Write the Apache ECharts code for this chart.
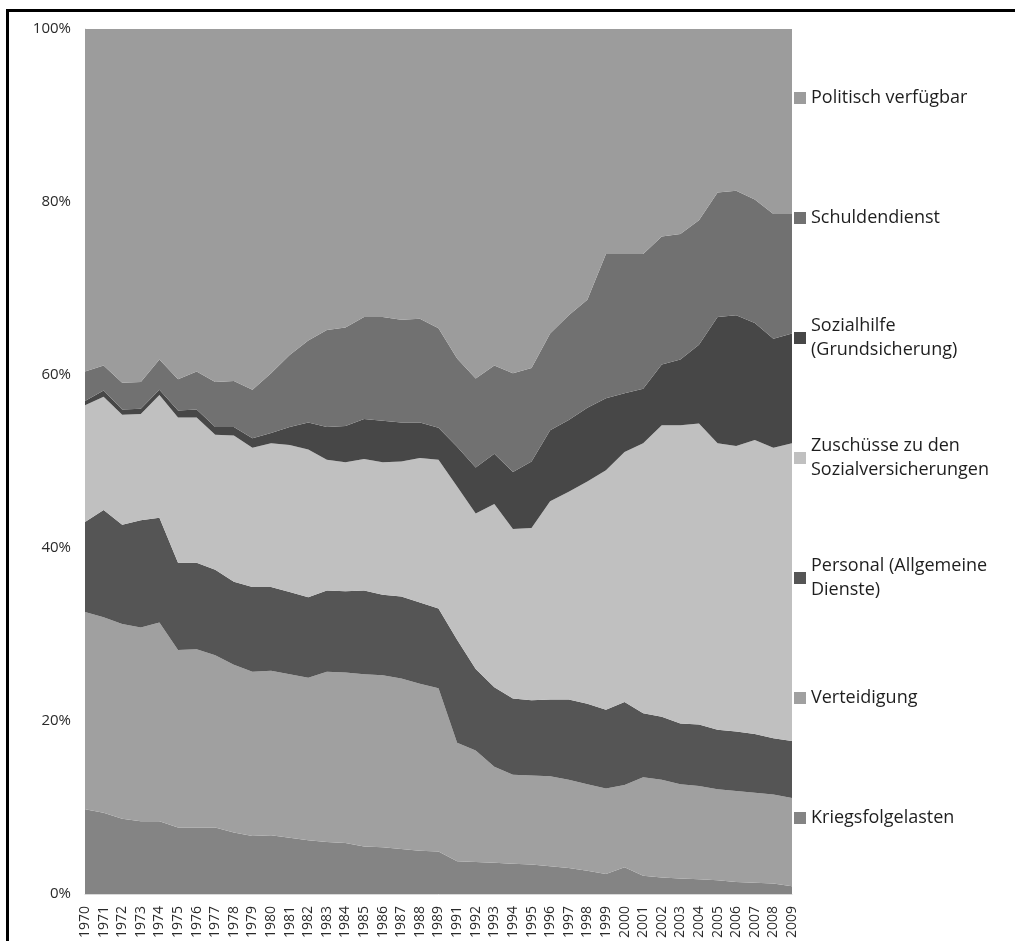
<!DOCTYPE html>
<html><head><meta charset="utf-8">
<script src="https://cdn.jsdelivr.net/npm/echarts@6/dist/echarts.min.js"></script>
<style>
html,body{margin:0;padding:0;background:#fff;overflow:hidden;width:1015px;height:941px;}
#chart{position:absolute;left:0;top:0;width:1015px;height:941px;}
#frame{position:absolute;left:6px;top:9px;width:1006px;height:929px;border-top:3px solid #000;border-left:3px solid #000;pointer-events:none;}
</style></head><body>
<div id="chart"></div><div id="frame"></div>
<script>
const years = ['1970','1971','1972','1973','1974','1975','1976','1977','1978','1979','1980','1981','1982','1983','1984','1985','1986','1987','1988','1989','1991','1992','1993','1994','1995','1996','1997','1998','1999','2000','2001','2002','2003','2004','2005','2006','2007','2008','2009'];
const kriegsfolgelasten = [9.8,9.4,8.7,8.4,8.4,7.7,7.7,7.7,7.1,6.7,6.8,6.5,6.2,6.0,5.9,5.5,5.4,5.2,5.0,4.9,3.8,3.7,3.6,3.5,3.4,3.2,3.0,2.7,2.3,3.1,2.1,1.9,1.8,1.7,1.6,1.4,1.3,1.2,0.9];
const verteidigung = [22.8,22.6,22.5,22.4,23.0,20.5,20.6,19.9,19.4,19.0,19.0,18.9,18.8,19.7,19.7,19.9,19.9,19.7,19.3,18.9,13.7,12.9,11.1,10.3,10.3,10.4,10.2,10.0,9.9,9.5,11.4,11.3,10.9,10.8,10.5,10.5,10.4,10.3,10.2];
const personal = [10.4,12.4,11.5,12.4,12.1,10.1,10.0,9.9,9.6,9.8,9.7,9.5,9.3,9.4,9.4,9.7,9.3,9.5,9.4,9.2,11.9,9.4,9.2,8.8,8.7,8.9,9.3,9.3,9.1,9.6,7.4,7.3,7.0,7.1,6.9,6.9,6.8,6.5,6.6];
const zuschuesse = [13.5,13.1,12.7,12.3,14.2,16.8,16.8,15.6,16.9,16.1,16.6,17.0,17.1,15.1,14.9,15.2,15.3,15.6,16.7,17.2,17.7,18.0,21.2,19.6,19.9,22.9,24.0,25.7,27.7,28.9,31.2,33.7,34.5,34.8,33.1,33.0,34.0,33.6,34.4];
const sozialhilfe = [0.5,0.7,0.6,0.6,0.6,0.8,0.9,0.9,1.0,1.1,1.2,2.1,3.1,3.8,4.2,4.6,4.8,4.5,4.1,3.7,4.6,5.3,5.8,6.6,7.7,8.2,8.3,8.5,8.3,6.8,6.3,7.0,7.6,9.1,14.6,15.1,13.5,12.6,12.7];
const schuldendienst = [3.4,2.9,3.1,3.1,3.5,3.6,4.4,5.2,5.3,5.6,6.9,8.3,9.5,11.2,11.4,11.8,12.0,11.9,12.0,11.5,10.2,10.3,10.2,11.4,10.8,11.2,12.1,12.5,16.7,16.1,15.6,14.8,14.5,14.4,14.4,14.4,14.3,14.4,13.8];
const politisch = [39.6,38.9,40.9,40.8,38.2,40.5,39.6,40.8,40.7,41.7,39.8,37.7,36.0,34.8,34.5,33.3,33.3,33.6,33.5,34.6,38.1,40.4,38.9,39.8,39.2,35.2,33.1,31.3,26.0,26.0,26.0,24.0,23.7,22.1,18.9,18.7,19.7,21.4,21.4];
const yTicks = [0,20,40,60,80,100];

// series from bottom to top of the stack
const seriesNames = ['Kriegsfolgelasten','Verteidigung','Personal (Allgemeine Dienste)','Zuschüsse zu den Sozialversicherungen','Sozialhilfe (Grundsicherung)','Schuldendienst','Politisch verfügbar'];
const legendLabels = ['Kriegsfolgelasten','Verteidigung','Personal (Allgemeine\nDienste)','Zuschüsse zu den\nSozialversicherungen','Sozialhilfe\n(Grundsicherung)','Schuldendienst','Politisch verfügbar'];
const seriesData = [kriegsfolgelasten, verteidigung, personal, zuschuesse, sozialhilfe, schuldendienst, politisch];
const colors = ['#848484','#a0a0a0','#555555','#c0c0c0','#474747','#717171','#9c9c9c'];
// legend marker centres (top to bottom: Politisch ... Kriegsfolgelasten)
const legendCenters = [818,698,578,458,338,218,98];

const chart = echarts.init(document.getElementById('chart'), null, {renderer:'canvas'});
const FONT = '"Open Sans", sans-serif';

const legends = seriesNames.map((n, i) => {
  const twoLine = legendLabels[i].indexOf('\n') >= 0;
  return {
    data: [n],
    left: 794,
    top: twoLine ? legendCenters[i] - 36 : legendCenters[i] - 12,
    padding: 0,
    itemWidth: 12,
    itemHeight: 12,
    icon: 'rect',
    selectedMode: false,
    formatter: () => legendLabels[i],
    textStyle: {
      fontFamily: FONT, fontSize: 18, color: '#1e1e1e', lineHeight: 24,
      padding: twoLine ? [24,0,0,0] : 0
    }
  };
});

chart.setOption({
  animation: false,
  color: colors,
  grid: {left: 85, right: 223, top: 29, bottom: 47, containLabel: false, outerBoundsMode: 'none'},
  legend: legends,
  xAxis: {
    type: 'category', data: years, boundaryGap: false,
    axisTick: {show: false},
    axisLine: {show: true, lineStyle: {color: '#d9d9d9', width: 1}},
    axisLabel: {interval: 0, rotate: 90, margin: 12, fontFamily: FONT, fontSize: 14, color: '#2a2a2a'}
  },
  yAxis: {
    type: 'value', min: 0, max: 100, interval: 20,
    axisTick: {show: false},
    splitLine: {show: false},
    axisLine: {show: true, lineStyle: {color: '#d9d9d9', width: 1}},
    axisLabel: {margin: 14, fontFamily: FONT, fontSize: 15, color: '#2a2a2a', formatter: v => yTicks.indexOf(v) >= 0 ? v + '%' : ''}
  },
  series: seriesNames.map((n, i) => ({
    name: n, type: 'line', stack: 'total', data: seriesData[i],
    showSymbol: false, symbol: 'none',
    lineStyle: {width: 0, opacity: 0},
    areaStyle: {color: colors[i], opacity: 1},
    itemStyle: {color: colors[i]},
    emphasis: {disabled: true}
  }))
});
</script>
</body></html>
